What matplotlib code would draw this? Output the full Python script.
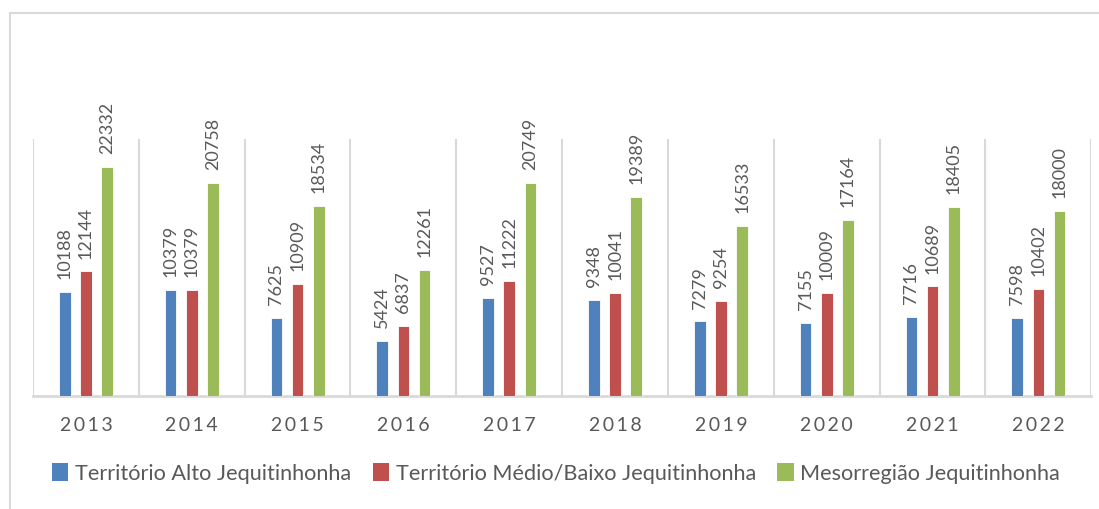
import numpy as np
import matplotlib.pyplot as plt
from matplotlib.patches import Patch, Rectangle

plt.rcParams['font.family'] = ['Lato', 'DejaVu Sans']

years = ['2013', '2014', '2015', '2016', '2017', '2018', '2019', '2020', '2021', '2022']
alto = [10188, 10379, 7625, 5424, 9527, 9348, 7279, 7155, 7716, 7598]
medio_baixo = [12144, 10379, 10909, 6837, 11222, 10041, 9254, 10009, 10689, 10402]
mesorregiao = [22332, 20758, 18534, 12261, 20749, 19389, 16533, 17164, 18405, 18000]

series = [('Território Alto Jequitinhonha', alto, '#4F81BD'),
          ('Território Médio/Baixo Jequitinhonha', medio_baixo, '#C0504D'),
          ('Mesorregião Jequitinhonha', mesorregiao, '#9BBB59')]

text_color = '#595959'
grid_color = '#D9D9D9'

fig = plt.figure(figsize=(10.99, 5.10), dpi=100)
ax = fig.add_axes([0.030, 0.221, 0.963, 0.504])

x = np.arange(len(years))
width = 0.11
offsets = [-0.2, 0.0, 0.2]

for (name, vals, color), off in zip(series, offsets):
    bars = ax.bar(x + off, vals, width, color=color, edgecolor='white', linewidth=0.6, zorder=3)
    for b, v in zip(bars, vals):
        ax.annotate(str(v), (b.get_x() + b.get_width() / 2, v), xytext=(0, 10),
                    textcoords='offset points', rotation=90, ha='center', va='bottom',
                    fontsize=13, color=text_color, annotation_clip=False)

ax.set_xlim(-0.5, len(years) - 0.5)
ax.set_ylim(0, 25000)

# category separators
for xb in np.arange(-0.5, len(years), 1.0):
    ax.axvline(xb, color=grid_color, lw=1.5, zorder=1)

ax.set_yticks([])
ax.set_xticks(x)
ax.set_xticklabels(['\u2009'.join(y) for y in years], fontsize=14, color=text_color)
ax.tick_params(axis='x', length=0, pad=14)
for s in ['top', 'right', 'left']:
    ax.spines[s].set_visible(False)
ax.spines['bottom'].set_color(grid_color)
ax.spines['bottom'].set_linewidth(2)

handles = [Patch(facecolor=c, label=n) for n, _, c in series]
leg = fig.legend(handles=handles, loc='center', bbox_to_anchor=(0.506, 0.071), ncol=3,
                 frameon=False, fontsize=15.6, handlelength=0.75, handleheight=0.9,
                 handletextpad=0.3, columnspacing=1.0, labelcolor=text_color)

# outer chart border
fig.add_artist(Rectangle((0.009, -0.05), 1.2, 1.023, transform=fig.transFigure,
                         fill=False, edgecolor=grid_color, lw=1.5))

fig.savefig('out.png', dpi=100, facecolor='white')
